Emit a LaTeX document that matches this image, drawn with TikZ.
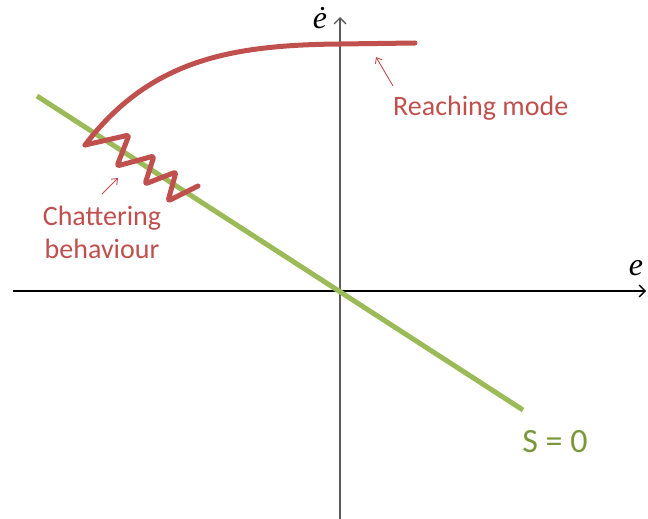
\documentclass[tikz,border=0pt]{standalone}
\usepackage{fontspec}
\setmainfont{Carlito}
\newfontfamily\axfont{Liberation Serif}
\usetikzlibrary{arrows.meta}
\definecolor{ored}{HTML}{C0504D}
\definecolor{ogreen}{HTML}{9BBB59}
\definecolor{tgreen}{RGB}{122,152,58}
\definecolor{axgray}{RGB}{90,90,90}
\tikzset{
  axisline/.style={line width=1.8pt,-{Straight Barb[length=6pt,width=12pt,line width=1.4pt]}},
  slide/.style={ogreen,line width=5pt},
  traj/.style={ored,line width=5pt,line join=round,line cap=round},
  pointer/.style={ored,line width=0.9pt,-{Straight Barb[length=5pt,width=8pt,line width=0.9pt]}},
  redlabel/.style={ored,font=\fontsize{28}{33}\selectfont,inner sep=0pt},
  axlabel/.style={anchor=base,inner sep=0pt,font=\axfont\itshape\fontsize{32}{32}\selectfont},
}
\begin{document}
\begin{tikzpicture}[x=1pt,y=-1pt]
\useasboundingbox (0,0) rectangle (648,519);
% axes
\coordinate (xl) at (13,291);
\coordinate (xr) at (646,291);
\coordinate (yb) at (340,519);
\coordinate (yt) at (340,17);
\draw[axisline,black] (xl) -- (xr);
\draw[axisline,axgray] (yb) -- (yt);
\node[axlabel] (ex) at (636,275) {e};
\node[axlabel] (edot) at (320,29) {ė};
% sliding surface
\coordinate (s1) at (37,96);
\coordinate (s2) at (523,410);
\draw[slide] (s1) -- (s2);
\node[anchor=base,inner sep=0pt,tgreen,font=\fontsize{34}{34}\selectfont] (S) at (555,452) {S = 0};
% trajectory
\draw[traj] (415,43) -- (340,44) .. controls (230,45) and (150,60) .. (85,145);
\draw[traj,rounded corners=2.5pt] (85,145)
  -- (129,135) -- (117,166) -- (154,156) -- (145,184) -- (176,172) -- (168,201) -- (198,186);
% labels
\node[redlabel,anchor=base west] (reach) at (393,115) {Reaching mode};
\node[redlabel,anchor=base] (chat1) at (102,225) {Chattering};
\node[redlabel,anchor=base] (chat2) at (102,258) {behaviour};
\coordinate (ra) at (393,86);
\coordinate (rb) at (376,57);
\draw[pointer] (ra) -- (rb);
\coordinate (ca) at (102,194);
\coordinate (cb) at (118,178);
\draw[pointer] (ca) -- (cb);
\end{tikzpicture}
\end{document}
